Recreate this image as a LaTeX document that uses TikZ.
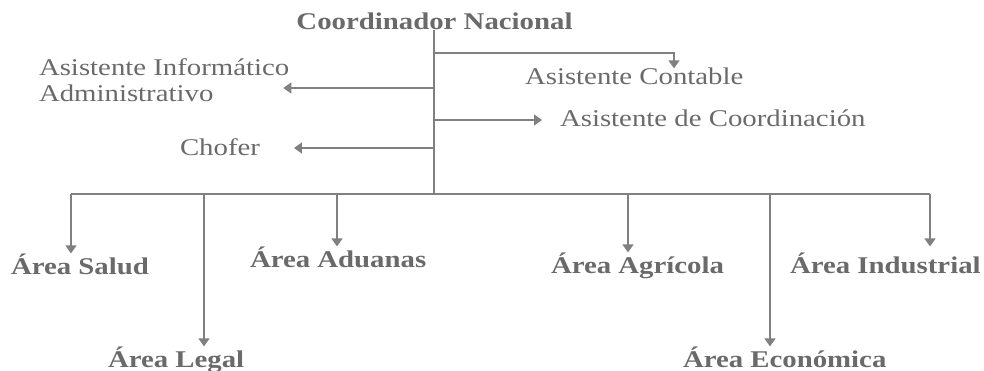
\documentclass[tikz,border=0pt]{standalone}
\usepackage{fontspec}
\setmainfont{Liberation Serif}
\usepackage{graphicx}
\usetikzlibrary{arrows.meta,calc}
\definecolor{txtgray}{HTML}{6A6A6A}
\definecolor{lngray}{HTML}{808080}
\newcommand{\wide}[1]{\scalebox{1.2}[1]{#1}}
\begin{document}
\begin{tikzpicture}[x=1pt,y=-1pt,
  lbl/.style={inner sep=0pt, outer sep=0pt, text=txtgray, font=\fontsize{24}{26}\selectfont},
  blbl/.style={lbl, font=\fontsize{24}{26}\selectfont\bfseries},
  conn/.style={draw=lngray, line width=1.5pt},
  arr/.style={conn, -{Triangle[width=11pt,length=8pt]}}]
\useasboundingbox (0,0) rectangle (984,371);

% nodes
\node[blbl, anchor=base] (coord) at (434.5,30) {\wide{Coordinador Nacional}};
\node[lbl, anchor=base west] (contable) at (525,85) {\wide{Asistente Contable}};
\node[lbl, anchor=north west, align=left] (info) at (39,59) {\wide{Asistente Informático}\\\wide{Administrativo}};
\node[lbl, anchor=base west] (coordin) at (560,127) {\wide{Asistente de Coordinación}};
\node[lbl, anchor=base west] (chofer) at (180,156) {\wide{Chofer}};

\node[blbl, anchor=base west] (salud) at (11,274) {\wide{Área Salud}};
\node[blbl, anchor=base west] (legal) at (108,367) {\wide{Área Legal}};
\node[blbl, anchor=base west] (aduanas) at (250,267) {\wide{Área Aduanas}};
\node[blbl, anchor=base west] (agricola) at (551,273) {\wide{Área Agrícola}};
\node[blbl, anchor=base west] (economica) at (683,367) {\wide{Área Económica}};
\node[blbl, anchor=base west] (industrial) at (790,273) {\wide{Área Industrial}};

% trunk junctions
\coordinate (j1) at (434,53);
\coordinate (j2) at (434,88);
\coordinate (j3) at (434,120);
\coordinate (j4) at (434,148);
\coordinate (bus) at (434,194);
\coordinate (c1) at (674,53);
\coordinate (bSal) at (71,194);
\coordinate (bLeg) at (204,194);
\coordinate (bAdu) at (337,194);
\coordinate (bAgr) at (628,194);
\coordinate (bEco) at (770,194);
\coordinate (bInd) at (930,194);

% trunk and bus
\draw[conn] (coord.south -| bus) -- (bus);
\draw[conn] (bSal) -- (bInd);

% assistants
\draw[arr] (j1) -- (c1) -- (c1 |- contable.north);
\draw[arr, shorten >=-6pt] (j2) -- (j2 -| info.east);
\draw[arr, shorten >=18pt] (j3) -- (j3 -| coordin.west);
\draw[arr, shorten >=34pt] (j4) -- (j4 -| chofer.east);

% areas
\draw[arr] (bSal) -- (bSal |- salud.north);
\draw[arr] (bLeg) -- (bLeg |- legal.north);
\draw[arr] (bAdu) -- (bAdu |- aduanas.north);
\draw[arr] (bAgr) -- (bAgr |- agricola.north);
\draw[arr] (bEco) -- (bEco |- economica.north);
\draw[arr, shorten >=6pt] (bInd) -- (bInd |- industrial.north);
\end{tikzpicture}
\end{document}
